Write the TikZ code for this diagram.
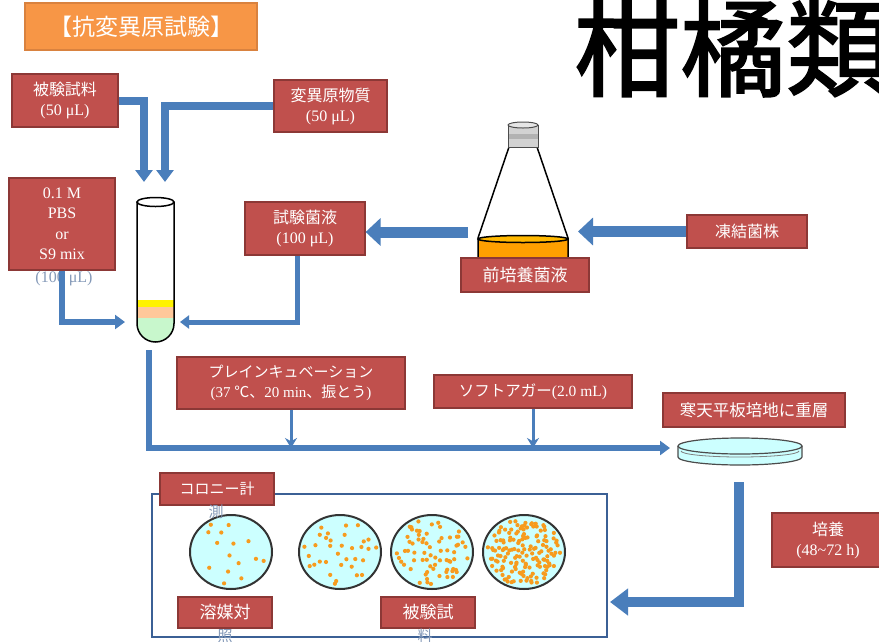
\documentclass[tikz,border=0pt]{standalone}
\usepackage{fontspec}
\setmainfont{Liberation Serif}
\newfontfamily\jp{Noto Sans CJK JP}
\newfontfamily\jpheavy{Noto Sans CJK JP}[FakeBold=2]
\usetikzlibrary{arrows.meta}

\definecolor{boxred}{HTML}{C0504D}
\definecolor{boxedge}{HTML}{8C3836}
\definecolor{flowblue}{HTML}{4A7EBB}
\definecolor{frameblue}{HTML}{3B6095}
\definecolor{titleorange}{HTML}{F79646}
\definecolor{titleedge}{HTML}{D9823F}
\definecolor{agar}{HTML}{CCFFFF}
\definecolor{colony}{HTML}{F79B1E}
\definecolor{broth}{HTML}{FFA000}
\definecolor{ghost}{HTML}{8499B8}
\definecolor{peach}{HTML}{FFC89A}
\definecolor{mint}{HTML}{C8F7CC}

\begin{document}
\begin{tikzpicture}[x=1pt,y=-1pt,
    redbox/.style={draw=boxedge, line width=1.2pt, fill=boxred, text=white, align=center, inner sep=0pt, font=\fontsize{16}{20}\selectfont},
    ghostline/.style={text=ghost, inner sep=0pt, font=\jp\fontsize{15}{15}\selectfont},
    fatflow/.style={draw=flowblue, line width=11pt, -{Triangle[width=27pt,length=15pt]}},
    bigflow/.style={draw=flowblue, line width=8pt, -{Triangle[width=17pt,length=12pt]}},
    midflow/.style={draw=flowblue, line width=6pt, -{Triangle[width=14pt,length=10pt]}},
    thinflow/.style={draw=flowblue, line width=3pt, -{Stealth[width=12pt,length=10pt]}},
    plate/.style={draw=black!80, line width=2pt, fill=agar},
    glass/.style={draw=black, line width=1.5pt}]

	% Fix the page and cut what runs off it
	\useasboundingbox (0,0) rectangle (879,641);
	\clip (0,0) rectangle (879,641);
	\fill[white] (0,0) rectangle (879,641);

	% Draw the two headings
	\node[draw=titleedge, line width=1.2pt, fill=titleorange, text=white, inner sep=0pt,
	      minimum width=232pt, minimum height=47pt, font=\jp\fontsize{23}{23}\selectfont] (heading) at (141,26.5) {【抗変異原試験】};
	\node[anchor=base west, inner sep=0pt, font=\jpheavy\fontsize{106}{106}\selectfont] (maintitle) at (574,88) {柑橘類};

	% Draw the boxes above and beside the tube
	\node[redbox, minimum width=106pt, minimum height=53pt] (sample) at (65,100.5) {{\jp 被験試料}\\(50 μL)};
	\node[redbox, minimum width=113pt, minimum height=52pt] (mutagen) at (330.5,106) {{\jp 変異原物質}\\(50 μL)};
	\node[redbox, minimum width=106pt, minimum height=92pt, font=\fontsize{16}{20.5}\selectfont] (buffer) at (62,224) {0.1 M\\PBS\\or\\S9 mix};
	\node[ghostline, font=\fontsize{16}{16}\selectfont] (buffervol) at (64,279) {(100 μL)};
	\node[redbox, minimum width=120pt, minimum height=53pt] (bacteria) at (305,228.5) {{\jp 試験菌液}\\(100 μL)};

	% Draw the test tube with its three layers
	\begin{scope}
	\clip (137,202) -- (137,323.5) arc[start angle=180, end angle=0, radius=18.5] -- (174,202) -- cycle;
	\fill[yellow] (137,300) rectangle (174,307);
	\fill[peach] (137,307) rectangle (174,318);
	\fill[mint] (137,318) rectangle (174,345);
	\end{scope}
	\draw[glass] (137,202) -- (137,323.5) arc[start angle=180, end angle=0, radius=18.5] -- (174,202);
	\draw[glass, fill=white] (155.5,202) ellipse[x radius=18.5, y radius=4.5];

	% Free ends of the arrows at the tube
	\coordinate (tubeA) at (144,182);
	\coordinate (tubeB) at (165,182);
	\coordinate (tubeL) at (125,322);
	\coordinate (tubeR) at (180,322);
	\coordinate (tubeOut) at (149,350);

	% Draw the flask of pre-culture
	\fill[broth] (478,238) rectangle (568,259);
	\draw[glass, fill=broth!75!yellow] (523,239) ellipse[x radius=45, y radius=3.5];
	\draw[glass] (509,147) -- (478,238) -- (478,259);
	\draw[glass] (537,147) -- (568,238) -- (568,259);
	\fill[gray!35] (508,125) rectangle (538,147);
	\fill[gray!60] (508,134) rectangle (538,139);
	\draw[line width=1pt, black!70] (508,125) -- (508,147) -- (538,147) -- (538,125);
	\draw[line width=1pt, black!70, fill=gray!20] (523,125) ellipse[x radius=15, y radius=3];
	\node[redbox, minimum width=128pt, minimum height=34pt, font=\jp\fontsize{17}{17}\selectfont] (preculture) at (525,275) {前培養菌液};
	\node[redbox, minimum width=120pt, minimum height=33pt, font=\jp\fontsize{16}{16}\selectfont] (frozen) at (747,231.5) {凍結菌株};
	\coordinate (flaskL) at (468,232);
	\coordinate (flaskR) at (578,231.5);

	% Draw the arrows into the tube and the flask
	\draw[bigflow] (sample.east) -| (tubeA);
	\draw[bigflow] (mutagen.west) -| (tubeB);
	\draw[midflow] (buffer.south) |- (tubeL);
	\draw[draw=flowblue, line width=5pt, -{Triangle[width=13pt,length=9pt]}] ([xshift=-8]bacteria.south) |- (tubeR);
	\draw[fatflow] (flaskL) -- (flaskL -| bacteria.east);
	\draw[fatflow] (frozen.west) -- (flaskR);

	% Draw the steps after the tube
	\node[redbox, minimum width=228pt, minimum height=52pt, font=\fontsize{15}{20}\selectfont] (preinc) at (291,383) {{\jp プレインキュベーション}\\(37 {\jp ℃、}20 min{\jp 、振とう})};
	\node[redbox, minimum width=198pt, minimum height=33pt, font=\fontsize{15.5}{15.5}\selectfont] (softagar) at (533,391.5) {{\jp ソフトアガー}(2.0 mL)};
	\node[redbox, minimum width=182pt, minimum height=34pt, font=\jp\fontsize{16.5}{16.5}\selectfont] (overlay) at (754,410) {寒天平板培地に重層};
	\node[redbox, minimum width=112pt, minimum height=54pt] (incubate) at (828,540) {{\jp 培養}\\(48\textasciitilde72 h)};
	\coordinate (dishL) at (670,448);
	\draw[midflow] (tubeOut) |- (dishL);
	\draw[thinflow] (preinc.south) -- (preinc.south |- dishL);
	\draw[thinflow] (softagar.south) -- (softagar.south |- dishL);

	% Draw the petri dish
	\fill[agar] (678,446) -- (678,457) arc[start angle=180, end angle=0, x radius=62, y radius=8] -- (802,446) -- cycle;
	\draw[line width=1.2pt, black!70] (678,446) -- (678,457) arc[start angle=180, end angle=0, x radius=62, y radius=8] -- (802,446);
	\draw[line width=1.2pt, black!70, fill=agar] (740,446) ellipse[x radius=62, y radius=8];
	\draw[line width=0.8pt, black!50] (681,451) arc[start angle=180, end angle=0, x radius=59, y radius=6];
	\coordinate (dishOut) at (739,482);
	\coordinate (frameIn) at (610,602);

	% Draw the frame with the counted plates
	\node[draw=frameblue, line width=2.5pt, minimum width=455pt, minimum height=143pt, inner sep=0pt] (frame) at (379.5,565.5) {};
	\draw[fatflow, line width=10pt, -{Triangle[width=26pt,length=18pt]}] (dishOut) |- (frameIn);
	\pgfmathsetseed{4711}
	\foreach \cx/\n in {231/15,340/34,432/70,524/150} {
		\fill[agar] (\cx,552) ellipse[x radius=41, y radius=37];
		\foreach \k in {1,...,\n} {
			\pgfmathsetmacro\rr{0.92*sqrt((\k-rnd)/\n)}
			\pgfmathsetmacro\aa{360*mod(0.381966*\k,1)+30*rand}
			\fill[colony] ({\cx+40*\rr*cos(\aa)},{552+36*\rr*sin(\aa)}) circle[radius=2.1];
		}
		\draw[plate, fill=none] (\cx,552) ellipse[x radius=41, y radius=37];
	}

	% Draw the labels in the frame
	\node[redbox, minimum width=114pt, minimum height=32pt, font=\jp\fontsize{15}{15}\selectfont] (count) at (217,489) {コロニー計};
	\node[ghostline] (countend) at (216,512) {測};
	\node[redbox, minimum width=94pt, minimum height=31pt, font=\jp\fontsize{17}{17}\selectfont] (control) at (225,612.5) {溶媒対};
	\node[ghostline] (controlend) at (225,636) {照};
	\node[redbox, minimum width=94pt, minimum height=31pt, font=\jp\fontsize{17}{17}\selectfont] (tested) at (428,612.5) {被験試};
	\node[ghostline] (testedend) at (425,636) {料};
\end{tikzpicture}
\end{document}
